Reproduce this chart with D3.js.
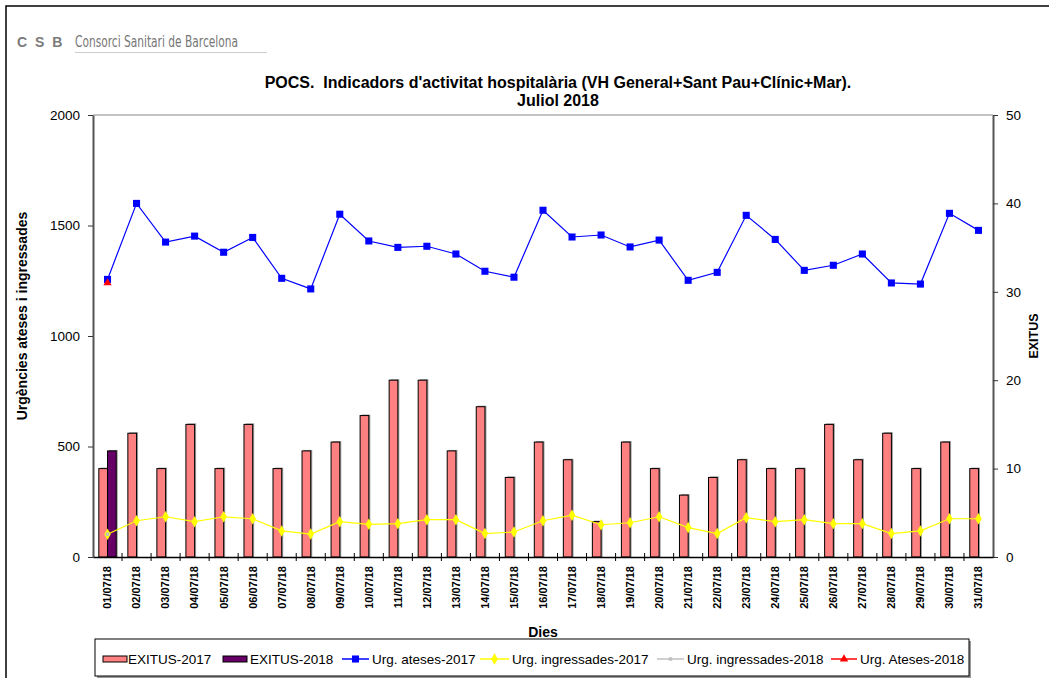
<!DOCTYPE html>
<html>
<head>
<meta charset="utf-8">
<script src="https://cdn.jsdelivr.net/npm/d3@7"></script>
<style>
  body { margin: 0; background: #fff; }
  svg { display: block; font-family: 'Liberation Sans', Arial, sans-serif; }
</style>
</head>
<body>
<svg width="1049" height="678"></svg>
<script>
const dies = [
  '01/07/18', '02/07/18', '03/07/18', '04/07/18', '05/07/18', '06/07/18', '07/07/18', '08/07/18',
  '09/07/18', '10/07/18', '11/07/18', '12/07/18', '13/07/18', '14/07/18', '15/07/18', '16/07/18',
  '17/07/18', '18/07/18', '19/07/18', '20/07/18', '21/07/18', '22/07/18', '23/07/18', '24/07/18',
  '25/07/18', '26/07/18', '27/07/18', '28/07/18', '29/07/18', '30/07/18', '31/07/18',
];

const exitus2017 = [10, 14, 10, 15, 10, 15, 10, 12, 13, 16, 20, 20, 12, 17, 9, 13,
  11, 4, 13, 10, 7, 9, 11, 10, 10, 15, 11, 14, 10, 13, 10];
const exitus2018 = [12];

const ateses2017 = [1256, 1600, 1425, 1452, 1379, 1446, 1261, 1213, 1551, 1430, 1401, 1406, 1371, 1293, 1266, 1569,
  1448, 1457, 1403, 1434, 1252, 1288, 1546, 1437, 1297, 1320, 1371, 1240, 1235, 1555, 1478];
const ingressades2017 = [103, 164, 182, 160, 182, 173, 118, 104, 160, 148, 151, 169, 169, 106, 113, 164,
  189, 146, 155, 182, 133, 106, 178, 160, 169, 151, 151, 106, 118, 173, 173];
const ingressades2018 = [103];
const ateses2018 = [1240];

const leftTicks = [0, 500, 1000, 1500, 2000];
const rightTicks = [0, 10, 20, 30, 40, 50];

const M = { left: 93, right: 993, top: 115, bottom: 557 };

const svg = d3.select('svg');

// page border
svg.append('path')
  .attr('d', 'M6,678 V6 H1049')
  .attr('fill', 'none')
  .attr('stroke', '#000')
  .attr('stroke-width', 1.5);

// logo
svg.append('text')
  .attr('x', 17).attr('y', 47)
  .attr('fill', '#7a7a7a')
  .attr('font-size', 14)
  .attr('font-weight', 'bold')
  .attr('letter-spacing', 2)
  .text('C S B');
svg.append('text')
  .attr('x', 75).attr('y', 47)
  .attr('fill', '#777')
  .attr('font-family', 'DejaVu Sans Condensed, DejaVu Sans')
  .attr('font-stretch', 'condensed')
  .attr('font-size', 15)
  .attr('textLength', 163)
  .attr('lengthAdjust', 'spacingAndGlyphs')
  .text('Consorci Sanitari de Barcelona');
svg.append('line')
  .attr('x1', 75).attr('x2', 267).attr('y1', 52.5).attr('y2', 52.5)
  .attr('stroke', '#ccc');

// title
const title = svg.append('text')
  .attr('text-anchor', 'middle')
  .attr('font-weight', 'bold')
  .attr('font-size', 16)
  .style('white-space', 'pre');
title.append('tspan').attr('x', 558).attr('y', 88)
  .text("POCS.  Indicadors d'activitat hospitalària (VH General+Sant Pau+Clínic+Mar).");
title.append('tspan').attr('x', 558).attr('y', 106).text('Juliol 2018');

// scales
const x = d3.scaleBand().domain(dies).range([M.left, M.right]).padding(0);
const bw = x.bandwidth();
const xInner = d3.scaleBand().domain(['2017', '2018'])
  .range([bw / 2 - 8.7, bw / 2 + 8.7]);
const yL = d3.scaleLinear().domain([0, 2000]).range([M.bottom, M.top]);
const yR = d3.scaleLinear().domain([0, 50]).range([M.bottom, M.top]);

// plot top border
svg.append('line')
  .attr('x1', M.left).attr('x2', M.right).attr('y1', M.top).attr('y2', M.top)
  .attr('stroke', '#888');

// bars
const barSeries = [
  { key: '2017', values: exitus2017, color: '#ff8080' },
  { key: '2018', values: exitus2018, color: '#660066' },
];
barSeries.forEach((s) => {
  const g = svg.append('g');
  const pts = s.values.map((v, i) => ({ dia: dies[i], v })).filter((d) => d.v != null);
  g.selectAll('.shadow')
    .data(pts)
    .enter()
    .append('rect')
    .attr('x', (d) => x(d.dia) + xInner(s.key) + 1.5)
    .attr('y', (d) => yR(d.v) - 1)
    .attr('width', xInner.bandwidth())
    .attr('height', (d) => M.bottom - yR(d.v) + 1)
    .attr('fill', '#999');
  g.selectAll('.bar')
    .data(pts)
    .enter()
    .append('rect')
    .attr('x', (d) => x(d.dia) + xInner(s.key))
    .attr('y', (d) => yR(d.v))
    .attr('width', xInner.bandwidth())
    .attr('height', (d) => M.bottom - yR(d.v))
    .attr('fill', s.color)
    .attr('stroke', '#000')
    .attr('stroke-width', 1);
});

// axes
const axisL = svg.append('g')
  .attr('transform', `translate(${M.left},0)`)
  .call(d3.axisLeft(yL).tickValues(leftTicks).tickFormat(d3.format('d'))
    .tickSize(5).tickPadding(8).tickSizeOuter(0));
const axisR = svg.append('g')
  .attr('transform', `translate(${M.right},0)`)
  .call(d3.axisRight(yR).tickValues(rightTicks).tickFormat(d3.format('d'))
    .tickSize(5).tickPadding(8).tickSizeOuter(0));
[axisL, axisR].forEach((a) => {
  a.select('.domain').attr('stroke', '#555').attr('stroke-width', 2);
  a.selectAll('.tick line').attr('stroke', '#333');
  a.selectAll('text').attr('font-size', 13.5).attr('font-family', 'Liberation Sans, Arial').attr('fill', '#000');
});

const axisB = svg.append('g')
  .attr('transform', `translate(0,${M.bottom})`)
  .call(d3.axisBottom(x).tickSize(0).tickSizeOuter(0));
axisB.select('.domain').attr('stroke', '#000').attr('stroke-width', 1.5);
axisB.selectAll('.tick text')
  .attr('transform', 'rotate(-90)')
  .attr('text-anchor', 'end')
  .attr('x', -9)
  .attr('y', 0)
  .attr('dy', '0.35em')
  .attr('font-size', 11)
  .attr('font-weight', 'bold')
  .attr('font-family', 'Liberation Sans, Arial')
  .attr('fill', '#000');
svg.append('g')
  .selectAll('line')
  .data(dies.slice(1))
  .enter()
  .append('line')
  .attr('x1', (d) => x(d)).attr('x2', (d) => x(d))
  .attr('y1', M.bottom - 4).attr('y2', M.bottom + 4)
  .attr('stroke', '#000');

// axis titles
svg.append('text')
  .attr('transform', `translate(27,${(M.top + M.bottom) / 2 - 20}) rotate(-90)`)
  .attr('text-anchor', 'middle')
  .attr('font-weight', 'bold')
  .attr('font-size', 14)
  .text('Urgències ateses i ingressades');
svg.append('text')
  .attr('transform', `translate(1038,${(M.top + M.bottom) / 2}) rotate(-90)`)
  .attr('text-anchor', 'middle')
  .attr('font-weight', 'bold')
  .attr('font-size', 12.5)
  .text('EXITUS');
svg.append('text')
  .attr('x', 543).attr('y', 637)
  .attr('text-anchor', 'middle')
  .attr('font-weight', 'bold')
  .attr('font-size', 14)
  .text('Dies');

// lines
const cx = (i) => x(dies[i]) + bw / 2;
const lineSeries = [
  { values: ateses2017, color: '#0000ff', marker: 'square' },
  { values: ingressades2017, color: '#ffff00', marker: 'diamond' },
  { values: ingressades2018, color: '#c0c0c0', marker: 'smallsquare' },
  { values: ateses2018, color: '#ff0000', marker: 'triangle' },
];
const symbols = {
  square: d3.symbol(d3.symbolSquare, 50),
  diamond: d3.symbol(d3.symbolDiamond, 38),
  smallsquare: d3.symbol(d3.symbolSquare, 12),
  triangle: d3.symbol(d3.symbolTriangle, 30),
};
lineSeries.forEach((s) => {
  const pts = s.values.map((v, i) => [cx(i), yL(v)]);
  svg.append('path')
    .attr('d', d3.line()(pts))
    .attr('fill', 'none')
    .attr('stroke', s.color)
    .attr('stroke-width', 1.2);
  svg.append('g')
    .selectAll('path')
    .data(pts)
    .enter()
    .append('path')
    .attr('transform', (d) => `translate(${d[0]},${d[1]})`)
    .attr('d', symbols[s.marker]())
    .attr('fill', s.color);
});

// legend
const lg = svg.append('g');
lg.append('rect')
  .attr('x', 97).attr('y', 641).attr('width', 874).attr('height', 37)
  .attr('fill', '#999');
lg.append('rect')
  .attr('x', 95).attr('y', 639).attr('width', 874).attr('height', 37)
  .attr('fill', '#fff')
  .attr('stroke', '#000');

const legendItems = [
  { label: 'EXITUS-2017', type: 'bar', color: '#ff8080', x: 103, tx: 128 },
  { label: 'EXITUS-2018', type: 'bar', color: '#660066', x: 223, tx: 250 },
  { label: 'Urg. ateses-2017', type: 'line', color: '#0000ff', marker: 'square', x: 342, tx: 372 },
  { label: 'Urg. ingressades-2017', type: 'line', color: '#ffff00', marker: 'diamond', x: 480, tx: 512 },
  { label: 'Urg. ingressades-2018', type: 'line', color: '#c0c0c0', marker: 'smallsquare', x: 657, tx: 687 },
  { label: 'Urg. Ateses-2018', type: 'line', color: '#ff0000', marker: 'triangle', x: 831, tx: 860 },
];
const ly = 659;
legendItems.forEach((it) => {
  if (it.type === 'bar') {
    lg.append('rect')
      .attr('x', it.x).attr('y', ly - 3).attr('width', 24).attr('height', 6)
      .attr('fill', it.color).attr('stroke', '#000');
  } else {
    const w = it.tx - it.x - 3;
    lg.append('line')
      .attr('x1', it.x).attr('x2', it.x + w).attr('y1', ly).attr('y2', ly)
      .attr('stroke', it.color).attr('stroke-width', 1.5);
    lg.append('path')
      .attr('transform', `translate(${it.x + w / 2},${ly})`)
      .attr('d', symbols[it.marker]())
      .attr('fill', it.color);
  }
  lg.append('text')
    .attr('x', it.tx).attr('y', ly)
    .attr('dy', '0.35em')
    .attr('font-size', 13.5)
    .text(it.label);
});
</script>
</body>
</html>
